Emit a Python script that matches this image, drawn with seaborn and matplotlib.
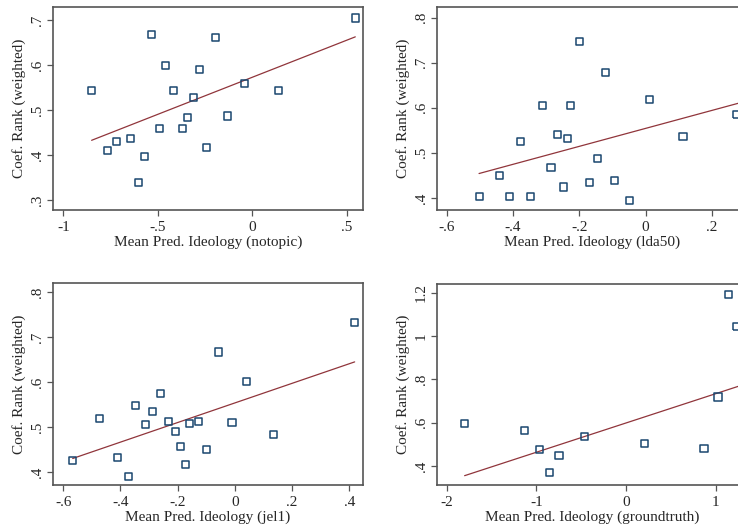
import matplotlib
matplotlib.use("Agg")
import matplotlib.pyplot as plt
import seaborn as sns

# -----------------------------
# Estilo general (tipo Stata s2color)
# -----------------------------
sns.set_theme(style="white")
plt.rcParams["font.family"] = ["Liberation Serif", "DejaVu Serif"]
color_punto = "#1a476f"
color_linea = "#90353b"
color_marco = "#555555"

# -----------------------------
# Datos
# -----------------------------
# notopic
x_notopic = [-0.850, -0.767, -0.720, -0.642, -0.568, -0.602, -0.531, -0.492, -0.457, -0.418,
             -0.370, -0.342, -0.312, -0.277, -0.241, -0.196, -0.131, -0.039, 0.138, 0.546]
y_notopic = [0.543, 0.410, 0.431, 0.436, 0.397, 0.339, 0.668, 0.459, 0.600, 0.543,
             0.459, 0.484, 0.529, 0.590, 0.417, 0.661, 0.487, 0.559, 0.543, 0.705]
fit_x_notopic = [-0.850, 0.546]
fit_y_notopic = [0.433, 0.663]

# lda50
x_lda50 = [-0.502, -0.440, -0.410, -0.377, -0.346, -0.311, -0.285, -0.265, -0.248, -0.234,
           -0.226, -0.198, -0.168, -0.145, -0.122, -0.093, -0.049, 0.011, 0.113, 0.276]
y_lda50 = [0.402, 0.449, 0.402, 0.526, 0.404, 0.604, 0.468, 0.541, 0.424, 0.532,
           0.606, 0.748, 0.434, 0.487, 0.678, 0.438, 0.395, 0.619, 0.537, 0.585]
fit_x_lda50 = [-0.502, 0.300]
fit_y_lda50 = [0.454, 0.614]

# jel1
x_jel1 = [-0.567, -0.472, -0.412, -0.372, -0.346, -0.312, -0.288, -0.261, -0.231, -0.207,
          -0.189, -0.172, -0.158, -0.127, -0.100, -0.058, -0.010, 0.042, 0.134, 0.419]
y_jel1 = [0.425, 0.518, 0.432, 0.390, 0.548, 0.505, 0.535, 0.574, 0.513, 0.491,
          0.456, 0.416, 0.508, 0.513, 0.449, 0.667, 0.510, 0.601, 0.484, 0.733]
fit_x_jel1 = [-0.567, 0.419]
fit_y_jel1 = [0.430, 0.645]

# groundtruth
x_gt = [-1.799, -1.130, -0.967, -0.855, -0.747, -0.465, 0.208, 0.870, 1.026, 1.138, 1.238]
y_gt = [0.597, 0.562, 0.475, 0.368, 0.449, 0.534, 0.505, 0.480, 0.718, 1.191, 1.043]
fit_x_gt = [-1.800, 1.300]
fit_y_gt = [0.355, 0.774]

# ticks
xt_notopic = [-1, -0.5, 0, 0.5]
xl_notopic = ["-1", "-.5", "0", ".5"]
yt_notopic = [0.3, 0.4, 0.5, 0.6, 0.7]
yl_notopic = [".3", ".4", ".5", ".6", ".7"]

xt_lda50 = [-0.6, -0.4, -0.2, 0, 0.2]
xl_lda50 = ["-.6", "-.4", "-.2", "0", ".2"]
yt_lda50 = [0.4, 0.5, 0.6, 0.7, 0.8]
yl_lda50 = [".4", ".5", ".6", ".7", ".8"]

xt_jel1 = [-0.6, -0.4, -0.2, 0, 0.2, 0.4]
xl_jel1 = ["-.6", "-.4", "-.2", "0", ".2", ".4"]
yt_jel1 = [0.4, 0.5, 0.6, 0.7, 0.8]
yl_jel1 = [".4", ".5", ".6", ".7", ".8"]

xt_gt = [-2, -1, 0, 1]
xl_gt = ["-2", "-1", "0", "1"]
yt_gt = [0.4, 0.6, 0.8, 1.0, 1.2]
yl_gt = [".4", ".6", ".8", "1", "1.2"]

paneles = [
    dict(x=x_notopic, y=y_notopic, fx=fit_x_notopic, fy=fit_y_notopic, xt=xt_notopic, xl=xl_notopic,
         yt=yt_notopic, yl=yl_notopic, xlim=(-1.053, 0.585), ylim=(0.278, 0.730),
         pos=[0.0722, 0.6030, 0.4192, 0.3843], etiqueta="Mean Pred. Ideology (notopic)"),
    dict(x=x_lda50, y=y_lda50, fx=fit_x_lda50, fy=fit_y_lda50, xt=xt_lda50, xl=xl_lda50,
         yt=yt_lda50, yl=yl_lda50, xlim=(-0.628, 0.305), ylim=(0.373, 0.823),
         pos=[0.5925, 0.6030, 0.4192, 0.3832], etiqueta="Mean Pred. Ideology (lda50)"),
    dict(x=x_jel1, y=y_jel1, fx=fit_x_jel1, fy=fit_y_jel1, xt=xt_jel1, xl=xl_jel1,
         yt=yt_jel1, yl=yl_jel1, xlim=(-0.635, 0.447), ylim=(0.371, 0.820),
         pos=[0.0722, 0.0832, 0.4192, 0.3813], etiqueta="Mean Pred. Ideology (jel1)"),
    dict(x=x_gt, y=y_gt, fx=fit_x_gt, fy=fit_y_gt, xt=xt_gt, xl=xl_gt,
         yt=yt_gt, yl=yl_gt, xlim=(-2.105, 1.345), ylim=(0.312, 1.240),
         pos=[0.5925, 0.0832, 0.4192, 0.3800], etiqueta="Mean Pred. Ideology (groundtruth)"),
]

# -----------------------------
# Gráficos
# -----------------------------
fig = plt.figure(figsize=(7.38, 5.29), dpi=100)

for p in paneles:
    ax = fig.add_axes(p["pos"])
    sns.lineplot(x=p["fx"], y=p["fy"], color=color_linea, linewidth=0.9, ax=ax, zorder=2)
    sns.scatterplot(x=p["x"], y=p["y"], marker="s", s=26, facecolors="none",
                    edgecolors=color_punto, linewidth=1.1, ax=ax, zorder=3)
    ax.set_xlim(*p["xlim"])
    ax.set_ylim(*p["ylim"])
    ax.set_xticks(p["xt"])
    ax.set_xticklabels(p["xl"])
    ax.set_yticks(p["yt"])
    ax.set_yticklabels(p["yl"], rotation=90, va="center")
    ax.tick_params(axis="x", direction="out", length=4, width=0.9, color=color_marco,
                   labelsize=11, pad=4, bottom=True)
    ax.tick_params(axis="y", direction="out", length=4, width=0.9, color=color_marco,
                   labelsize=11, pad=3, left=True)
    ax.set_xlabel(p["etiqueta"], fontsize=11, labelpad=1)
    ax.set_ylabel("Coef. Rank (weighted)", fontsize=11, labelpad=3)
    for s in ax.spines.values():
        s.set_color(color_marco)
        s.set_linewidth(1.2)

plt.savefig("out.png", dpi=100)
